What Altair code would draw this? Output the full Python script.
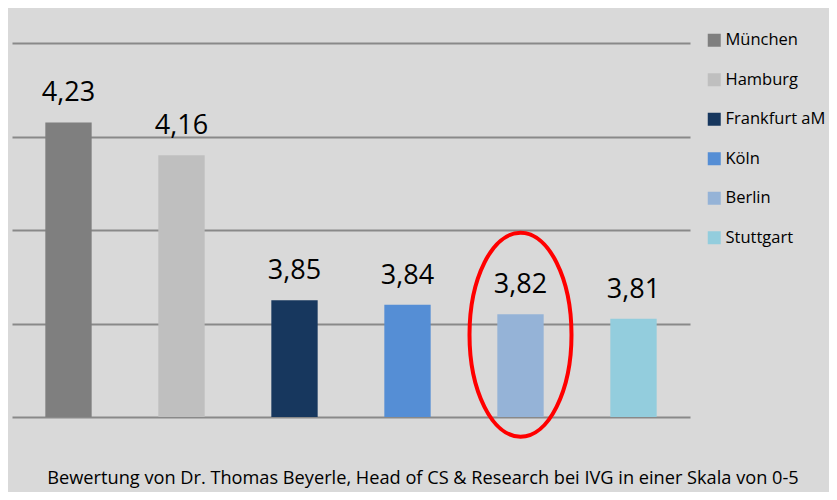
import altair as alt
import pandas as pd

cities = ["München", "Hamburg", "Frankfurt aM", "Köln", "Berlin", "Stuttgart"]
scores = [4.23, 4.16, 3.85, 3.84, 3.82, 3.81]
colors = ["#7f7f7f", "#bfbfbf", "#17375e", "#558ed5", "#95b3d7", "#93cddd"]
highlight_city = ["Berlin"]
highlight_center = [3.776]
caption = "Bewertung von Dr. Thomas Beyerle, Head of CS & Research bei IVG in einer Skala von 0-5"

df = pd.DataFrame({"city": cities, "score": scores})
hl = pd.DataFrame({"city": highlight_city, "score": highlight_center})

FONT = "Open Sans"

x_enc = alt.X("city:N", sort=cities, title=None,
              scale=alt.Scale(paddingInner=0.59, paddingOuter=0.295),
              axis=alt.Axis(labels=False, ticks=False, domain=False, grid=False))
y_scale = alt.Scale(domain=[3.6, 4.4], zero=False, nice=False)

bars = alt.Chart(df).mark_bar().encode(
    x=x_enc,
    y=alt.Y("score:Q", scale=y_scale, title=None,
            axis=alt.Axis(values=[3.6, 3.8, 4.0, 4.2, 4.4], labels=False, ticks=False,
                          domain=False, grid=True, gridColor="#898989", gridWidth=2)),
    y2=alt.datum(3.6),
    color=alt.Color("city:N", sort=cities,
                    scale=alt.Scale(domain=cities, range=colors),
                    legend=alt.Legend(title=None, orient="none", legendX=694, legendY=-11,
                                      symbolType="square", symbolSize=169, symbolStrokeWidth=0,
                                      labelFont=FONT, labelFontSize=16.5, labelColor="#000000",
                                      rowPadding=22.5, labelOffset=3, labelLimit=300)),
)

labels = alt.Chart(df).transform_calculate(
    lbl="replace(format(datum.score, '.2f'), '.', ',')"
).mark_text(font=FONT, fontSize=27, color="#000000", baseline="alphabetic", dy=-21).encode(
    x=alt.X("city:N", sort=cities),
    y=alt.Y("score:Q", scale=y_scale),
    text="lbl:N",
)

ellipse_path = "M -0.5 0 A 0.5 1 0 1 0 0.5 0 A 0.5 1 0 1 0 -0.5 0 Z"
ring = alt.Chart(hl).mark_point(shape=ellipse_path, size=41616, filled=False,
                                stroke="#ff0000", strokeWidth=4, opacity=1).encode(
    x=alt.X("city:N", sort=cities),
    y=alt.Y("score:Q", scale=y_scale),
)

chart = alt.layer(bars, labels, ring).properties(
    width=678,
    height=374,
    autosize=alt.AutoSizeParams(type="none"),
    padding={"left": 4, "top": 35, "right": 139, "bottom": 75},
    background="#d9d9d9",
    title=alt.TitleParams(caption, orient="bottom", anchor="middle", dx=72, offset=25,
                          font=FONT, fontSize=18.2, fontWeight="normal", color="#000000"),
).configure_view(stroke=None)

chart.save("out.html", embed_options={"renderer": "svg", "actions": False})
